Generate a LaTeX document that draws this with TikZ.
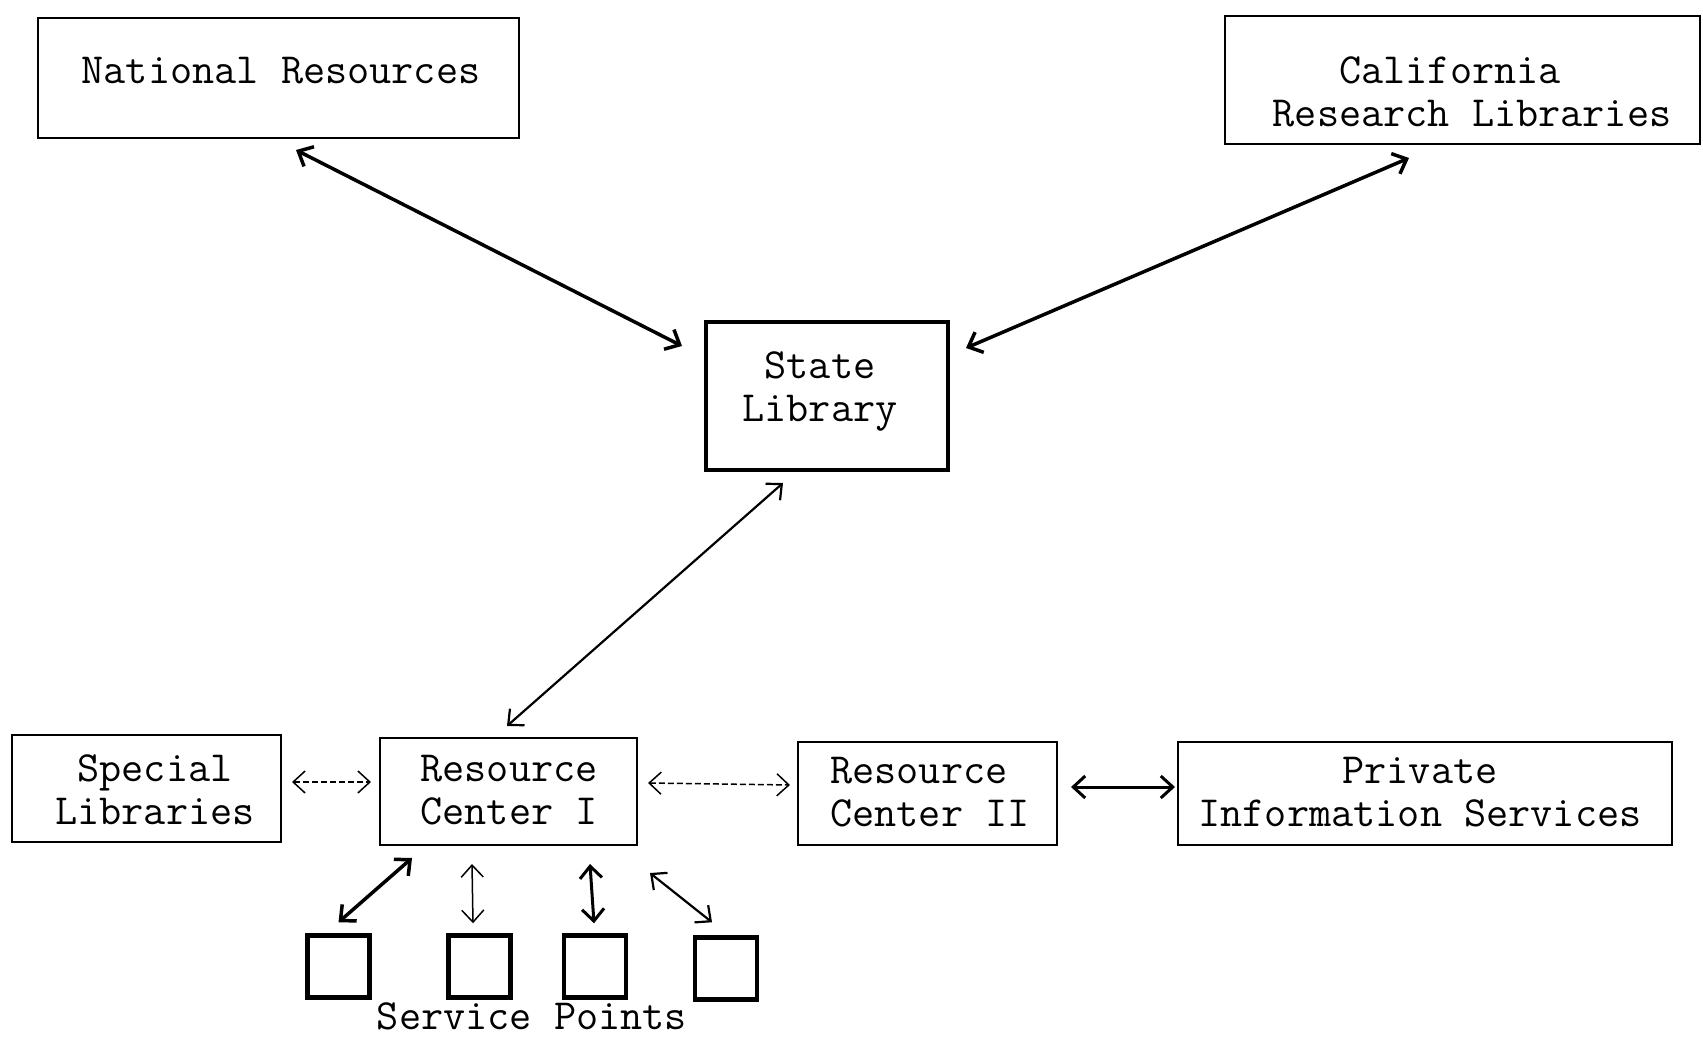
\documentclass[tikz,border=0pt]{standalone}
\usetikzlibrary{arrows.meta}
\begin{document}
\begin{tikzpicture}[x=1pt,y=-1pt,
  every node/.style={font=\ttfamily\fontsize{43}{43}\selectfont, inner sep=0pt, align=center},
  box/.style={draw, line width=2pt},
  heavybox/.style={draw, line width=4pt},
  spbox/.style={draw, line width=4.5pt, minimum width=62pt, minimum height=62pt},
  tip/.style={{Straight Barb[length=12pt,width=22pt]}-{Straight Barb[length=12pt,width=22pt]}},
  heavyarr/.style={tip, line width=3.5pt},
  midarr/.style={tip, line width=2.2pt},
  thinarr/.style={tip, line width=1.5pt},
  dasharr/.style={tip, line width=1.5pt, dashed, dash pattern=on 6pt off 3pt}]
\useasboundingbox (0,0) rectangle (1703,1040);
\fill[white] (0,0) rectangle (1703,1040);
% boxes
\node[box, minimum width=481pt, minimum height=120pt] (nr) at (278.5,78) {};
\node (nrt) at (281,71) {National Resources};
\node[box, minimum width=475pt, minimum height=128pt] (crl) at (1462.5,80) {};
\node (crlt1) at (1450,70) {California};
\node (crlt2) at (1472,114) {Research Libraries};
\node[heavybox, minimum width=242pt, minimum height=148pt] (sl) at (827,396) {};
\node (slt) at (820,392) {State\\Library};
\node[box, minimum width=269pt, minimum height=107pt] (spl) at (146.5,788.5) {};
\node (splt) at (155,790) {Special\\Libraries};
\node[box, minimum width=257pt, minimum height=107pt] (rc1) at (508.5,791.5) {};
\node (rc1t) at (509,790) {Resource\\Center I};
\node[box, minimum width=259pt, minimum height=103pt] (rc2) at (927.5,793.5) {};
\node[align=left] (rc2t) at (930,792) {Resource\\Center II};
\node[box, minimum width=494pt, minimum height=103pt] (pis) at (1425,793.5) {};
\node (pist) at (1420,792) {Private\\Information Services};
\node[spbox] (sp1) at (338.5,966.5) {};
\node[spbox] (sp2) at (479.5,966.5) {};
\node[spbox] (sp3) at (595,966.5) {};
\node[spbox] (sp4) at (726,968.5) {};
\node (spt) at (532,1016) {Service Points};
% connectors
\draw[heavyarr] ([shift={(17.5,11)}]nr.south) -- ([shift={(-22,26)}]sl.north west);
\draw[heavyarr] ([shift={(-53.5,13)}]crl.south) -- ([shift={(16,28)}]sl.north east);
\draw[midarr] ([shift={(-44,11)}]sl.south) -- ([shift={(-1.5,-11)}]rc1.north);
\draw[dasharr] ([shift={(10,-6.5)}]spl.east) -- ([shift={(-8,-9.5)}]rc1.west);
\draw[dasharr] ([shift={(10,-8.5)}]rc1.east) -- ([shift={(-7,-8.5)}]rc2.west);
\draw[heavyarr, line width=3pt] ([shift={(13,-6.5)}]rc2.east) -- ([shift={(-2,-6.5)}]pis.west);
\draw[heavyarr] ([shift={(-96.5,12)}]rc1.south) -- ([shift={(0,-11)}]sp1.north);
\draw[thinarr] ([shift={(-36.5,18)}]rc1.south) -- ([shift={(-6.5,-10)}]sp2.north);
\draw[heavyarr, line width=3pt] ([shift={(81.5,18)}]rc1.south) -- ([shift={(-1,-10)}]sp3.north);
\draw[midarr] ([shift={(141.5,27)}]rc1.south) -- ([shift={(-14,-13)}]sp4.north);
\end{tikzpicture}
\end{document}
